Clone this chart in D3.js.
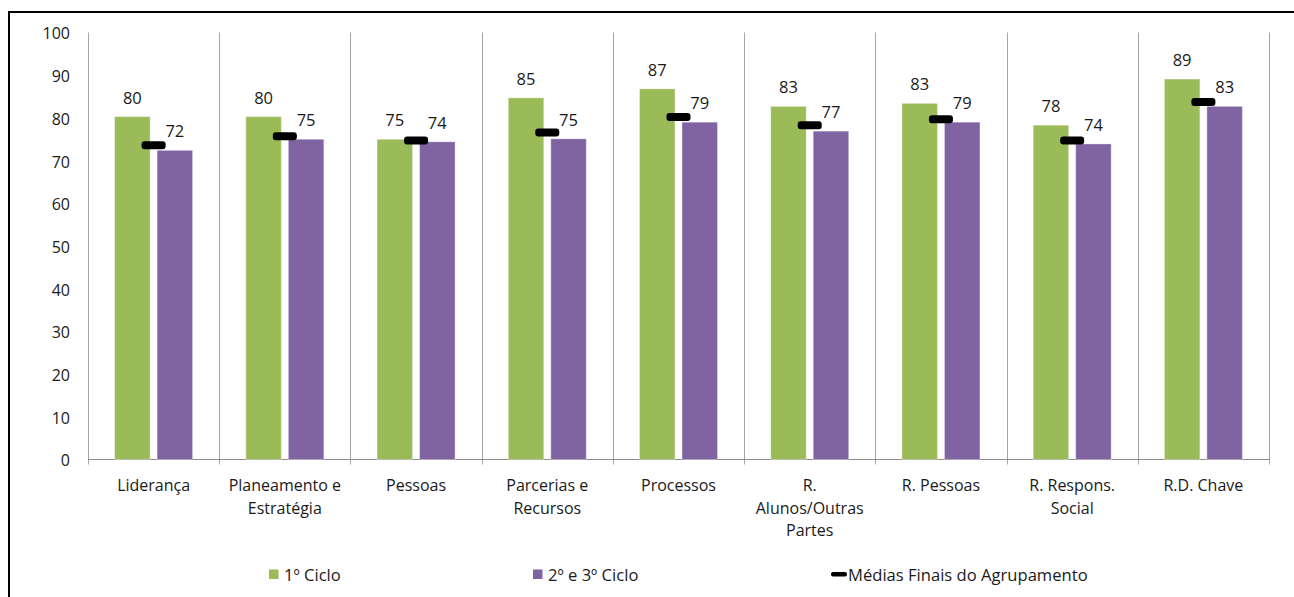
<!DOCTYPE html>
<html>
<head>
<meta charset="utf-8">
<script src="https://cdn.jsdelivr.net/npm/d3@7"></script>
<style>
  html, body { margin: 0; padding: 0; background: #fff; }
  svg { display: block; font-family: "Open Sans", Lato, sans-serif; }
</style>
</head>
<body>
<svg id="chart" width="1294" height="597"></svg>
<script>
// Category names (line breaks as drawn under the axis)
const categories = [
  "Liderança",
  "Planeamento e\nEstratégia",
  "Pessoas",
  "Parcerias e\nRecursos",
  "Processos",
  "R.\nAlunos/Outras\nPartes",
  "R. Pessoas",
  "R. Respons.\nSocial",
  "R.D. Chave"
];
const seriesNames = ["1º Ciclo", "2º e 3º Ciclo"];
const cicloA = [80.3, 80.3, 75.0, 84.7, 86.8, 82.7, 83.4, 78.3, 89.1];
const cicloB = [72.4, 75.0, 74.4, 75.1, 79.0, 76.9, 79.0, 73.9, 82.7];
const mediasFinais = [73.6, 75.7, 74.7, 76.6, 80.2, 78.3, 79.7, 74.7, 83.7];
const markerName = "Médias Finais do Agrupamento";
const yTicks = [0, 10, 20, 30, 40, 50, 60, 70, 80, 90, 100];

const colors = ["#9bbb59", "#8064a2"];
const textColor = "#1a1a1a";
const gridColor = "#a6a6a6";

const svg = d3.select("#chart");

// outer frame of the chart area
svg.append("rect")
  .attr("x", 9).attr("y", 12)
  .attr("width", 1300).attr("height", 600)
  .attr("fill", "none").attr("stroke", "#000").attr("stroke-width", 2);

const plot = { left: 88, right: 1269, top: 32.5, bottom: 459.5 };

const x0 = d3.scaleBand().domain(d3.range(categories.length))
  .range([plot.left, plot.right]).padding(0);
const x1 = d3.scaleBand().domain([0, 1])
  .range([0, x0.bandwidth()]).paddingInner(0.165).paddingOuter(0.626);
const y = d3.scaleLinear().domain([0, 100]).range([plot.bottom, plot.top]);

// category separators
const bounds = d3.range(categories.length + 1).map(i =>
  i < categories.length ? x0(i) : x0(categories.length - 1) + x0.bandwidth());
svg.append("g").selectAll("line").data(bounds).join("line")
  .attr("x1", d => Math.round(d) + 0.5).attr("x2", d => Math.round(d) + 0.5)
  .attr("y1", plot.top).attr("y2", plot.bottom + 5)
  .attr("stroke", gridColor).attr("stroke-width", 1);

// bottom axis line
svg.append("line")
  .attr("x1", plot.left).attr("x2", plot.right + 1)
  .attr("y1", plot.bottom).attr("y2", plot.bottom)
  .attr("stroke", "#8c8c8c").attr("stroke-width", 1.2);

// y axis
const yAxis = d3.axisLeft(y).tickValues(yTicks).tickSize(0).tickPadding(18);
const gy = svg.append("g").attr("transform", `translate(${plot.left},0)`).call(yAxis);
gy.select(".domain").remove();
gy.selectAll("text")
  .attr("font-size", 16).attr("dy", "0.4em").attr("fill", textColor)
  .attr("font-family", "'Open Sans', sans-serif");

// bars
const seriesData = [cicloA, cicloB];
const groups = svg.append("g").selectAll("g").data(seriesData).join("g")
  .attr("fill", (d, i) => colors[i]);
groups.each(function (vals, si) {
  const g = d3.select(this);
  g.selectAll("rect").data(vals).join("rect")
    .attr("x", (d, i) => x0(i) + x1(si))
    .attr("y", d => y(d))
    .attr("width", x1.bandwidth())
    .attr("height", d => y(0) - y(d))
    .attr("stroke", "#fff").attr("stroke-opacity", 0.35).attr("stroke-width", 1);
  g.selectAll("text").data(vals).join("text")
    .attr("x", (d, i) => x0(i) + x1(si) + x1.bandwidth() / 2)
    .attr("y", d => y(d) - 13)
    .attr("text-anchor", "middle")
    .attr("font-size", 16.5).attr("fill", textColor)
    .text(d => d3.format(".0f")(d));
});

// average markers, centred in the gap between the two bars
const mW = 24, mH = 8;
const gapCenter = i => x0(i) + x1(0) + x1.bandwidth() + (x1(1) - x1(0) - x1.bandwidth()) / 2;
svg.append("g").selectAll("rect").data(mediasFinais).join("rect")
  .attr("x", (d, i) => gapCenter(i) - mW / 2)
  .attr("y", d => y(d) - mH / 2)
  .attr("width", mW).attr("height", mH)
  .attr("rx", 3).attr("fill", "#000");

// category labels
const catG = svg.append("g");
categories.forEach((c, i) => {
  const t = catG.append("text")
    .attr("x", x0(i) + x0.bandwidth() / 2)
    .attr("y", 491)
    .attr("text-anchor", "middle")
    .attr("font-size", 16).attr("fill", textColor);
  c.split("\n").forEach((line, k) => {
    t.append("tspan").attr("x", x0(i) + x0.bandwidth() / 2)
      .attr("dy", k === 0 ? 0 : 22.5).text(line);
  });
});

// legend
const legBase = 581;
const leg = svg.append("g");
const legItems = [
  { x: 269, tx: 284, label: seriesNames[0], type: "box", color: colors[0] },
  { x: 533, tx: 548, label: seriesNames[1], type: "box", color: colors[1] },
  { x: 831, tx: 848, label: markerName, type: "marker", color: "#000" }
];
legItems.forEach(it => {
  if (it.type === "box") {
    leg.append("rect").attr("x", it.x).attr("y", 569.5)
      .attr("width", 9.5).attr("height", 9.5).attr("fill", it.color);
  } else {
    leg.append("rect").attr("x", it.x).attr("y", 572)
      .attr("width", 16).attr("height", 4.5).attr("rx", 2).attr("fill", it.color);
  }
  leg.append("text").attr("x", it.tx).attr("y", legBase)
    .attr("font-size", 16.6).attr("fill", textColor).text(it.label);
});
</script>
</body>
</html>
